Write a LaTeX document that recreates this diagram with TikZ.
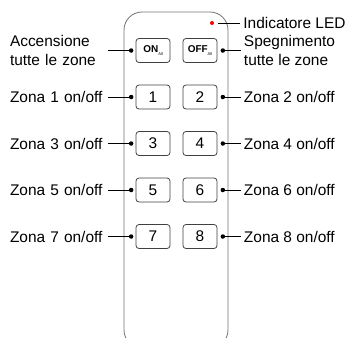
\documentclass[tikz,border=0pt]{standalone}
\usepackage{fontspec}
\setmainfont{Liberation Sans}
\usetikzlibrary{positioning}

\begin{document}
\begin{tikzpicture}[x=1bp, y=-1bp, node distance=21bp, every node/.style={font=\fontsize{15.5}{18.5}\selectfont}]
    % Styles
    \tikzstyle{key} = [rectangle, rounded corners=3bp, draw=black!75, line width=0.8bp, minimum width=34bp, minimum height=24bp, inner sep=0pt]
    \tikzstyle{pin} = [circle, fill=black, inner sep=0pt, minimum size=4.5bp]
    \tikzstyle{lefttext} = [text width=96bp, align=left, inner sep=1.5bp]
    \tikzstyle{righttext} = [align=left, inner sep=3bp]
    \tikzstyle{lead} = [line width=0.8bp]

    \useasboundingbox (0,0) rectangle (348,338);
    \clip (0,0) rectangle (348,338);

    % Remote body
    \node[draw=black!55, line width=0.8bp, rounded corners=18bp, minimum width=104bp, minimum height=336bp] (remote) at (176,180) {};

    % Keys
    \node[key] (on) at (153,50.5) {\textbf{\fontsize{10}{10}\selectfont ON}\raisebox{-3bp}{\fontsize{4}{4}\selectfont All}};
    \node[key] (off) at (200,50.5) {\textbf{\fontsize{10}{10}\selectfont OFF}\raisebox{-3bp}{\fontsize{4}{4}\selectfont All}};
    \node[key] (k1) at (153,97) {1};
    \node[key] (k2) at (200,97) {2};
    \node[key] (k3) at (153,143.5) {3};
    \node[key] (k4) at (200,143.5) {4};
    \node[key] (k5) at (153,190) {5};
    \node[key] (k6) at (200,190) {6};
    \node[key] (k7) at (153,236.5) {7};
    \node[key] (k8) at (200,236.5) {8};

    % LED
    \node[circle, fill=red, inner sep=0pt, minimum size=4bp] (led) at (212,23) {};
    \node[righttext, right=26bp of led] (tled) {Indicatore LED};
    \draw[lead, shorten <=4bp] (led) -- (tled);

    % Left labels
    \node[pin, left=2bp of on] (pon) {};
    \node[lefttext, left=of pon] (ton) {Accensione\\tutte le zone};
    \draw[lead] (ton) -- (pon);
    \node[pin, left=2bp of k1] (p1) {};
    \node[lefttext, left=of p1] (t1) {Zona 1 on/off};
    \draw[lead] (t1) -- (p1);
    \node[pin, left=2bp of k3] (p3) {};
    \node[lefttext, left=of p3] (t3) {Zona 3 on/off};
    \draw[lead] (t3) -- (p3);
    \node[pin, left=2bp of k5] (p5) {};
    \node[lefttext, left=of p5] (t5) {Zona 5 on/off};
    \draw[lead] (t5) -- (p5);
    \node[pin, left=2bp of k7] (p7) {};
    \node[lefttext, left=of p7] (t7) {Zona 7 on/off};
    \draw[lead] (t7) -- (p7);

    % Right labels
    \node[pin, right=3bp of off] (poff) {};
    \node[righttext, right=15.5bp of poff] (toff) {Spegnimento\\tutte le zone};
    \draw[lead] (poff) -- (toff);
    \node[pin, right=3bp of k2] (p2) {};
    \node[righttext, right=15.5bp of p2] (t2) {Zona 2 on/off};
    \draw[lead] (p2) -- (t2);
    \node[pin, right=3bp of k4] (p4) {};
    \node[righttext, right=15.5bp of p4] (t4) {Zona 4 on/off};
    \draw[lead] (p4) -- (t4);
    \node[pin, right=3bp of k6] (p6) {};
    \node[righttext, right=15.5bp of p6] (t6) {Zona 6 on/off};
    \draw[lead] (p6) -- (t6);
    \node[pin, right=3bp of k8] (p8) {};
    \node[righttext, right=15.5bp of p8] (t8) {Zona 8 on/off};
    \draw[lead] (p8) -- (t8);
\end{tikzpicture}
\end{document}
